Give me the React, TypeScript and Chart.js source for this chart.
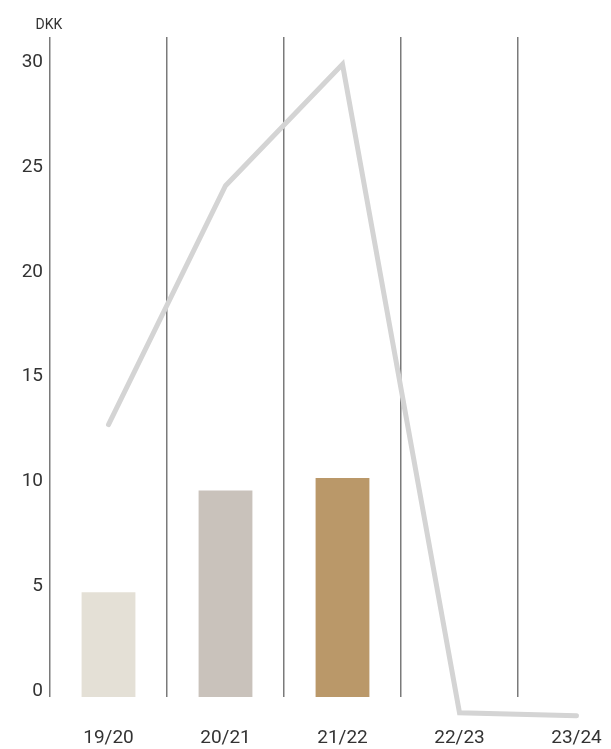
import React, { useEffect, useRef } from "react";
import { Chart, registerables } from "chart.js";

Chart.register(...registerables);

const categories = ["19/20", "20/21", "21/22", "22/23", "23/24"];
const barValues = [5.0, 9.85, 10.45, null, null];
const lineValues = [13.0, 24.4, 30.2, -0.75, -0.9];
const barColors = ["#E4E0D6", "#C9C2BB", "#BA9869", "#E4E0D6", "#E4E0D6"];
const unitLabel = "DKK";
const yMin = 0;
const yMax = 31.5;
const yStep = 5;

const unitPlugin = {
  id: "unitLabel",
  afterDraw(chart: any) {
    const { ctx, chartArea } = chart;
    ctx.save();
    ctx.font = "14px Roboto";
    ctx.fillStyle = "#333333";
    ctx.textAlign = "center";
    ctx.textBaseline = "middle";
    ctx.fillText(unitLabel, chartArea.left - 1, chartArea.top - 12);
    ctx.restore();
  },
};

export default function App() {
  const canvasRef = useRef<HTMLCanvasElement | null>(null);

  useEffect(() => {
    if (!canvasRef.current) return;
    Chart.defaults.font.family = "Roboto";
    const chart = new Chart(canvasRef.current, {
      type: "bar",
      data: {
        labels: categories,
        datasets: [
          {
            type: "line",
            label: "line",
            data: lineValues,
            borderColor: "#D4D4D4",
            borderWidth: 5,
            pointRadius: 0,
            tension: 0,
            fill: false,
            borderCapStyle: "round",
            clip: false,
            order: 1,
          } as any,
          {
            type: "bar",
            label: "bars",
            data: barValues,
            backgroundColor: barColors,
            categoryPercentage: 1,
            barPercentage: 0.46,
            order: 2,
          } as any,
        ],
      },
      options: {
        animation: false,
        responsive: true,
        maintainAspectRatio: false,
        layout: { padding: { top: 37, right: 5, bottom: 0, left: 0 } },
        plugins: {
          legend: { display: false },
          tooltip: { enabled: false },
        },
        scales: {
          x: {
            type: "category",
            offset: true,
            grid: {
              display: true,
              offset: true,
              color: "#7a7a7a",
              lineWidth: 1.5,
              drawTicks: false,
            },
            border: { display: false },
            ticks: {
              font: { size: 19 },
              color: "#333333",
              padding: 30,
              maxRotation: 0,
              autoSkip: false,
            },
            afterFit(scale: any) {
              scale.height = 52;
            },
          },
          y: {
            min: yMin,
            max: yMax,
            grid: { display: false, drawTicks: false },
            border: { display: false },
            ticks: {
              stepSize: yStep,
              includeBounds: false,
              labelOffset: -6,
              padding: 7,
              font: { size: 19 },
              color: "#333333",
            },
            afterFit(scale: any) {
              scale.width = 50;
            },
          },
        },
      } as any,
      plugins: [unitPlugin],
    });
    return () => chart.destroy();
  }, []);

  return (
    <div
      style={{
        position: "absolute",
        left: 0,
        top: 0,
        width: 611,
        height: 749,
        overflow: "hidden",
        background: "#ffffff",
      }}
    >
      <div style={{ position: "relative", width: 640, height: 749 }}>
        <canvas ref={canvasRef} />
      </div>
    </div>
  );
}
